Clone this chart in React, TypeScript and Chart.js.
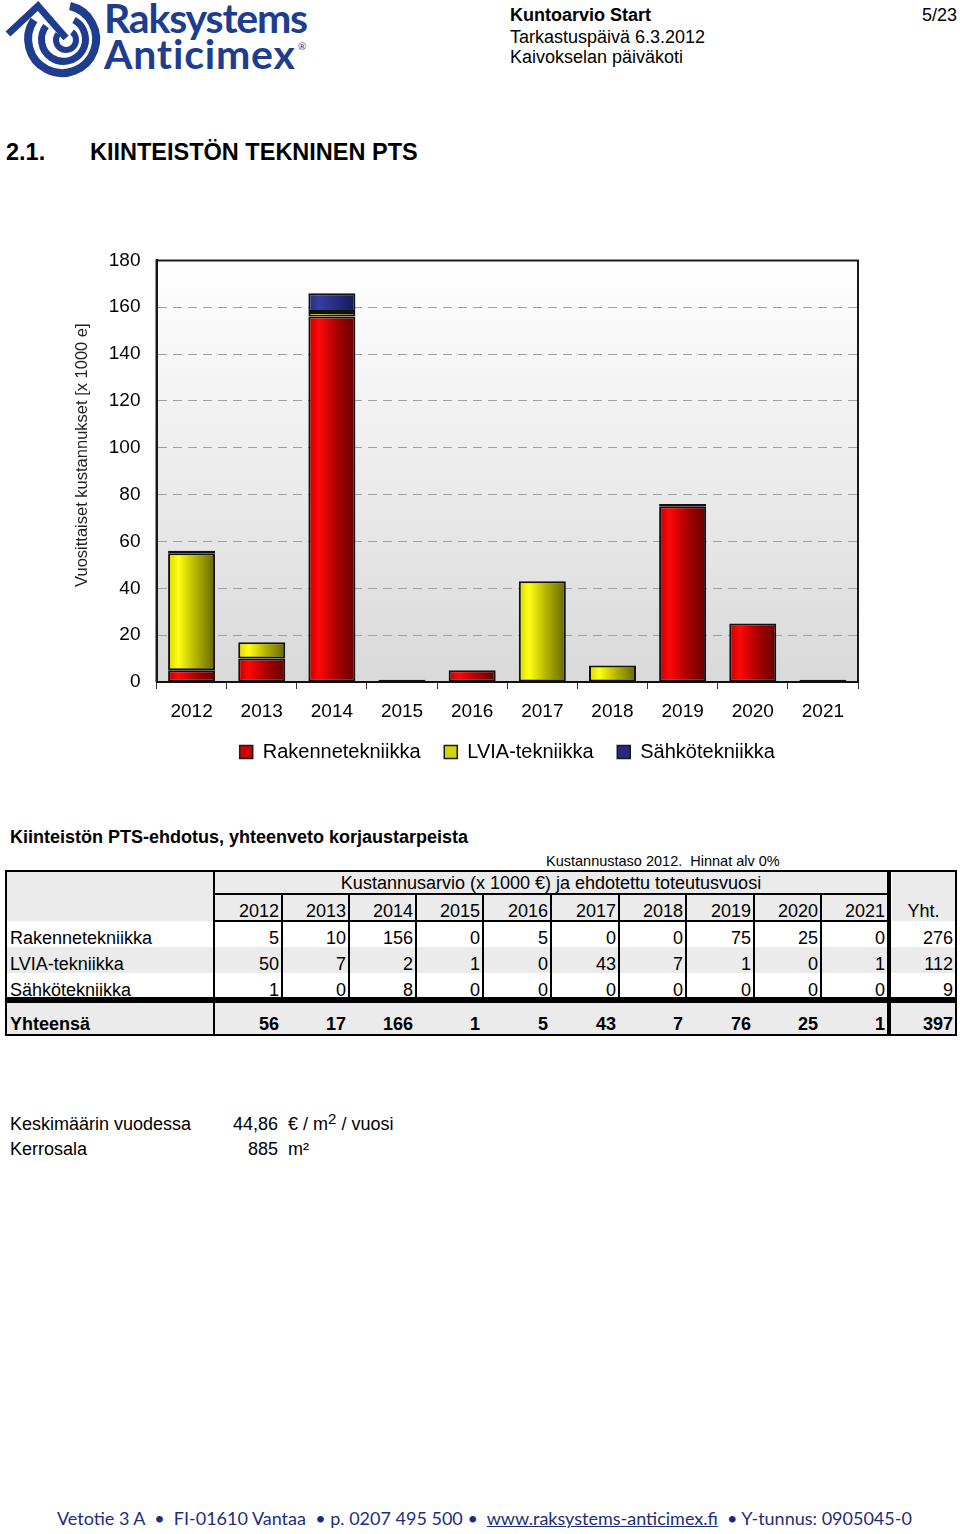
import React, { useEffect, useRef } from 'react';
import { Chart, registerables } from 'chart.js';

Chart.register(...registerables);

// ---------- data ----------
const years = ['2012', '2013', '2014', '2015', '2016', '2017', '2018', '2019', '2020', '2021'];
const seriesNames = ['Rakennetekniikka', 'LVIA-tekniikka', 'Sähkötekniikka'];
const rakenne = [5, 10, 156, 0, 5, 0, 0, 75, 25, 0];
const lvia = [50, 7, 2, 1, 0, 43, 7, 1, 0, 1];
const sahko = [1, 0, 8, 0, 0, 0, 0, 0, 0, 0];
const yearTotals = [56, 17, 166, 1, 5, 43, 7, 76, 25, 1];
const rowTotals = [276, 112, 9];
const grandTotal = 397;
const yMin = 0;
const yMax = 180;
const yStep = 20;
const yTitle = 'Vuosittaiset kustannukset [x 1000 e]';

const FONT = '"Liberation Sans", Arial, Helvetica, sans-serif';
const BAR_PCT = 0.67;

const gradientStops: string[][] = [
  ['#c00000', '#ff0808', '#aa0000', '#660000'],
  ['#d8d800', '#ffff14', '#b0b000', '#666600'],
  ['#262c7e', '#363e9e', '#262c80', '#141a52'],
];
const legendColors = ['#d00000', '#d4d400', '#242a7c'];

function barFill(seriesIndex: number) {
  return (c: any) => {
    const chart = c.chart;
    const area = chart.chartArea;
    const xs = chart.scales && chart.scales.x;
    if (!area || !xs || c.dataIndex === undefined) return legendColors[seriesIndex];
    const cx = xs.getPixelForValue(c.dataIndex);
    const w = (xs.width / years.length) * BAR_PCT;
    const g = chart.ctx.createLinearGradient(cx - w / 2, 0, cx + w / 2, 0);
    const s = gradientStops[seriesIndex];
    g.addColorStop(0, s[0]);
    g.addColorStop(0.22, s[1]);
    g.addColorStop(0.6, s[2]);
    g.addColorStop(1, s[3]);
    return g;
  };
}

const plotFrame = {
  id: 'plotFrame',
  beforeDraw(chart: any) {
    const { ctx, chartArea } = chart;
    if (!chartArea) return;
    const { left, top, right, bottom } = chartArea;
    const g = ctx.createLinearGradient(0, top, 0, bottom);
    g.addColorStop(0, '#ffffff');
    g.addColorStop(1, '#d9d9d9');
    ctx.save();
    ctx.fillStyle = g;
    ctx.fillRect(left, top, right - left, bottom - top);
    ctx.restore();
  },
  afterDraw(chart: any) {
    const { ctx, chartArea } = chart;
    const { left, top, right, bottom } = chartArea;
    ctx.save();
    ctx.strokeStyle = '#1a1a1a';
    ctx.lineWidth = 2;
    ctx.beginPath();
    ctx.moveTo(left, bottom);
    ctx.lineTo(left, top);
    ctx.lineTo(right, top);
    ctx.lineTo(right, bottom);
    ctx.stroke();
    ctx.restore();
  },
};

function BarChart() {
  const ref = useRef<HTMLCanvasElement | null>(null);
  useEffect(() => {
    if (!ref.current) return;
    const seriesData = [rakenne, lvia, sahko];
    const chart = new Chart(ref.current, {
      type: 'bar',
      data: {
        labels: years,
        datasets: seriesNames.map((name, i) => ({
          label: name,
          data: seriesData[i],
          backgroundColor: barFill(i),
          borderColor: '#111111',
          borderWidth: 2,
          borderSkipped: false,
          barPercentage: BAR_PCT,
          categoryPercentage: 1,
        })),
      },
      options: {
        responsive: false,
        animation: false,
        layout: { padding: { left: 13, right: 22, top: 13, bottom: 0 } },
        plugins: {
          tooltip: { enabled: false },
          legend: {
            position: 'bottom',
            fullSize: false,
            labels: {
              boxWidth: 13,
              boxHeight: 13,
              padding: 7,
              color: '#000',
              font: { family: FONT, size: 20 },
              generateLabels: (ch: any) =>
                ch.data.datasets.map((ds: any, i: number) => ({
                  text: i < ch.data.datasets.length - 1 ? ds.label + '   ' : ds.label,
                  fillStyle: legendColors[i],
                  strokeStyle: '#1a1a1a',
                  lineWidth: 1.5,
                  hidden: false,
                  datasetIndex: i,
                })),
            },
          },
        },
        scales: {
          x: {
            stacked: true,
            grid: {
              display: true,
              drawOnChartArea: false,
              drawTicks: true,
              tickLength: 7,
              offset: true,
              color: '#333',
              lineWidth: 1,
            },
            border: { display: true, color: '#111', width: 2 },
            ticks: { color: '#000', font: { family: FONT, size: 19 }, padding: 11.6 },
          },
          y: {
            stacked: true,
            min: yMin,
            max: yMax,
            ticks: { stepSize: yStep, color: '#000', font: { family: FONT, size: 19 }, padding: 16 },
            grid: {
              drawTicks: false,
              color: (c: any) =>
                c.tick && (c.tick.value === yMin || c.tick.value === yMax) ? 'rgba(0,0,0,0)' : '#a0a0a0',
              lineWidth: 1,
            },
            border: { display: true, color: '#111', width: 2, dash: [9, 6] },
            title: {
              display: true,
              text: '       ' + yTitle,
              color: '#222',
              font: { family: FONT, size: 16.5 },
              padding: { top: 0, bottom: 0 },
            },
          },
        },
      },
      plugins: [plotFrame],
    } as any);
    return () => chart.destroy();
  }, []);
  return (
    <canvas
      ref={ref}
      width={820}
      height={539}
      style={{ position: 'absolute', left: 60, top: 233, width: 820, height: 539 }}
    />
  );
}

function Logo() {
  const blue = '#1f3d8e';
  return (
    <div style={{ position: 'absolute', left: 0, top: 0, width: 320, height: 85 }}>
      <svg width={104} height={82} style={{ position: 'absolute', left: 4, top: 0 }}>
        <path d="M 30 20 A 34 34 0 1 0 66 6" fill="none" stroke={blue} strokeWidth={8} />
        <path d="M 42 26 A 22 22 0 1 0 70 20" fill="none" stroke={blue} strokeWidth={7} />
        <path d="M 54 34 A 10 10 0 1 0 68 32" fill="none" stroke={blue} strokeWidth={6} />
        <path d="M 4 34 L 34 6 L 62 38" fill="none" stroke={blue} strokeWidth={7} strokeLinejoin="miter" />
      </svg>
      <div style={{ position: 'absolute', left: 104, top: -7, fontFamily: 'Lato, sans-serif', fontWeight: 700, fontSize: 41, color: blue, letterSpacing: -1.2, whiteSpace: 'nowrap' }}>Raksystems</div>
      <div style={{ position: 'absolute', left: 104, top: 29, fontFamily: 'Lato, sans-serif', fontWeight: 700, fontSize: 41, color: blue, letterSpacing: 0.8, whiteSpace: 'nowrap' }}>Anticimex</div>
      <div style={{ position: 'absolute', left: 298, top: 40, fontFamily: 'Lato, sans-serif', fontSize: 10, color: blue }}>®</div>
    </div>
  );
}

const txt = (extra: any): any => ({ position: 'absolute', fontFamily: FONT, color: '#000', whiteSpace: 'nowrap', lineHeight: 1, ...extra });

function Table() {
  const xb = [214, 282, 349, 416, 483, 551, 619, 686, 754, 821, 888];
  const rows = [rakenne, lvia, sahko];
  const rowTop = [921, 947, 973];
  const gray = '#ebebeb';
  const fs = 18;
  const els: any[] = [];
  const box = (k: string, x: number, y: number, w: number, h: number, bg: string) =>
    els.push(<div key={k} style={{ position: 'absolute', left: x, top: y, width: w, height: h, background: bg }} />);
  // backgrounds
  box('bg-h', 6, 871, 882, 50, gray);
  box('bg-yh', 892, 871, 65, 50, gray);
  box('bg-r1', 6, 947, 951, 26, gray);
  box('bg-tot', 6, 1003, 951, 32, gray);
  // lines
  box('l-top', 6, 870, 951, 2, '#000');
  box('l-bot', 6, 1034, 951, 2, '#000');
  box('l-left', 5, 870, 2, 166, '#000');
  box('l-right', 955, 870, 2, 166, '#000');
  box('l-lab', 213, 870, 2, 166, '#000');
  box('l-thick', 887, 870, 4, 166, '#000');
  box('l-h0', 214, 893, 674, 2, '#000');
  box('l-h1', 214, 920, 674, 2, '#000');
  box('l-hthick', 6, 997, 951, 6, '#000');
  for (let i = 1; i < xb.length - 1; i++) box('v' + i, xb[i] - 1, 893, 2, 105, '#000');
  // header texts
  els.push(<div key="ka" style={txt({ left: 214, width: 674, top: 874, fontSize: fs, textAlign: 'center' })}>Kustannusarvio (x 1000 €) ja ehdotettu toteutusvuosi</div>);
  years.forEach((y, i) =>
    els.push(<div key={'y' + y} style={txt({ left: xb[i], width: xb[i + 1] - xb[i] - 3, top: 902, fontSize: fs, textAlign: 'right' })}>{y}</div>)
  );
  els.push(<div key="yht" style={txt({ left: 892, width: 63, top: 902, fontSize: fs, textAlign: 'center' })}>Yht.</div>);
  rows.forEach((r, ri) => {
    els.push(<div key={'lab' + ri} style={txt({ left: 10, top: rowTop[ri] + 8, fontSize: fs })}>{seriesNames[ri]}</div>);
    r.forEach((v, i) =>
      els.push(<div key={'c' + ri + '-' + i} style={txt({ left: xb[i], width: xb[i + 1] - xb[i] - 3, top: rowTop[ri] + 8, fontSize: fs, textAlign: 'right' })}>{v}</div>)
    );
    els.push(<div key={'rt' + ri} style={txt({ left: 892, width: 61, top: rowTop[ri] + 8, fontSize: fs, textAlign: 'right' })}>{rowTotals[ri]}</div>);
  });
  els.push(<div key="ytlab" style={txt({ left: 10, top: 1015, fontSize: fs, fontWeight: 700 })}>Yhteensä</div>);
  yearTotals.forEach((v, i) =>
    els.push(<div key={'t' + i} style={txt({ left: xb[i], width: xb[i + 1] - xb[i] - 3, top: 1015, fontSize: fs, fontWeight: 700, textAlign: 'right' })}>{v}</div>)
  );
  els.push(<div key="gt" style={txt({ left: 892, width: 61, top: 1015, fontSize: fs, fontWeight: 700, textAlign: 'right' })}>{grandTotal}</div>);
  return <>{els}</>;
}

export default function App() {
  return (
    <div style={{ position: 'absolute', left: 0, top: 0, width: 960, height: 1534, background: '#fff', overflow: 'hidden' }}>
      <Logo />
      <div style={txt({ left: 510, top: 6, fontSize: 18, fontWeight: 700 })}>Kuntoarvio Start</div>
      <div style={txt({ left: 510, top: 28, fontSize: 18 })}>Tarkastuspäivä 6.3.2012</div>
      <div style={txt({ left: 510, top: 48, fontSize: 18 })}>Kaivokselan päiväkoti</div>
      <div style={txt({ left: 900, width: 57, top: 6, fontSize: 18, textAlign: 'right' })}>5/23</div>

      <div style={txt({ left: 6, top: 141, fontSize: 23.5, fontWeight: 700 })}>2.1.</div>
      <div style={txt({ left: 90, top: 141, fontSize: 23.5, fontWeight: 700 })}>KIINTEISTÖN TEKNINEN PTS</div>

      <BarChart />

      <div style={txt({ left: 10, top: 828, fontSize: 18, fontWeight: 700 })}>Kiinteistön PTS-ehdotus, yhteenveto korjaustarpeista</div>
      <div style={txt({ left: 546, top: 854, fontSize: 14.5 })}>Kustannustaso 2012.&nbsp; Hinnat alv 0%</div>
      <Table />

      <div style={txt({ left: 10, top: 1115, fontSize: 18 })}>Keskimäärin vuodessa</div>
      <div style={txt({ left: 233, top: 1115, fontSize: 18 })}>
        44,86&nbsp; € / m<sup style={{ fontSize: 15, verticalAlign: 6, lineHeight: 0 }}>2</sup> / vuosi
      </div>
      <div style={txt({ left: 10, top: 1140, fontSize: 18 })}>Kerrosala</div>
      <div style={txt({ left: 248, top: 1140, fontSize: 18 })}>885&nbsp; m²</div>

      <div style={{ position: 'absolute', left: 57, top: 1509, fontFamily: 'Lato, sans-serif', fontSize: 18, color: '#1d2d7c', whiteSpace: 'nowrap', lineHeight: 1 }}>
        Vetotie 3 A&nbsp; •&nbsp; FI-01610 Vantaa&nbsp; • p. 0207 495 500 •&nbsp; <span style={{ textDecoration: 'underline' }}>www.raksystems-anticimex.fi</span>&nbsp; • Y-tunnus: 0905045-0
      </div>
    </div>
  );
}
